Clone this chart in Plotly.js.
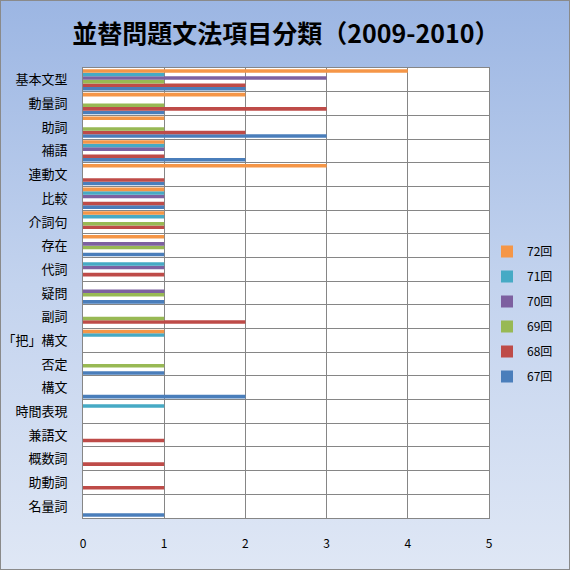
<!DOCTYPE html>
<html>
<head>
<meta charset="utf-8">
<script src="https://cdn.plot.ly/plotly-3.0.1.min.js"></script>
<style>
  html, body { margin: 0; padding: 0; }
  #chart {
    width: 570px; height: 570px; box-sizing: border-box;
    border: 1px solid #8a8a8a;
    background: linear-gradient(to bottom, #9cb6e3 0%, #c3d3ee 50%, #dfe7f5 100%);
  }
</style>
</head>
<body>
<div id="chart"></div>
<script>
const categories = ['基本文型','動量詞','助詞','補語','連動文','比較','介詞句','存在','代詞','疑問','副詞','「把」構文','否定','構文','時間表現','兼語文','概数詞','助動詞','名量詞'];
const seriesNames = ['67回','68回','69回','70回','71回','72回'];
const s67 = [2,1,3,2,1,1,0,1,0,1,0,0,1,2,0,0,0,0,1];
const s68 = [2,3,2,1,1,1,1,0,1,0,2,0,0,0,0,1,1,1,0];
const s69 = [1,1,1,0,0,0,1,1,0,1,1,0,1,0,0,0,0,0,0];
const s70 = [3,0,0,1,0,1,0,1,1,1,0,0,0,0,0,0,0,0,0];
const s71 = [1,0,0,1,0,1,1,0,1,0,0,1,0,0,1,0,0,0,0];
const s72 = [4,2,1,1,3,1,1,1,0,0,0,1,0,0,0,0,0,0,0];
const xTicks = [0,1,2,3,4,5];

const seriesValues = [s67, s68, s69, s70, s71, s72];
const colors = ['#4a7ebb','#be4b48','#98b954','#7d60a0','#46aac5','#f59647'];

const traces = seriesValues.map((vals, i) => ({
  type: 'bar',
  orientation: 'h',
  name: seriesNames[i],
  x: vals,
  y: categories,
  marker: {color: colors[i]},
  legendgroup: 'g' + i,
  legendrank: seriesValues.length - i,
  hoverinfo: 'x+y+name'
}));

const layout = {
  width: 570, height: 570,
  paper_bgcolor: 'rgba(0,0,0,0)',
  plot_bgcolor: '#ffffff',
  margin: {l: 82, r: 82, t: 67, b: 53, autoexpand: false},
  barmode: 'group',
  bargap: 0.1,
  bargroupgap: 0,
  font: {family: '"Noto Sans CJK JP", "Noto Sans", sans-serif', size: 12, color: '#000'},
  title: {
    text: '<b>並替問題文法項目分類（2009-2010）</b>',
    font: {family: '"Noto Sans CJK JP", sans-serif', size: 25, color: '#000'},
    x: 0.5, xanchor: 'center',
    y: 1 - 33/570, yanchor: 'middle'
  },
  xaxis: {
    range: [0, 5],
    tickvals: xTicks,
    ticktext: xTicks.map(String),
    showgrid: true, gridcolor: '#868686', gridwidth: 1,
    zeroline: false,
    showline: true, linecolor: '#868686', linewidth: 1, mirror: true,
    ticks: '', ticklabelstandoff: 15,
    tickfont: {size: 12, color: '#000'},
    automargin: false,
    fixedrange: true
  },
  yaxis: {
    type: 'category',
    categoryorder: 'array',
    categoryarray: categories.slice().reverse(),
    tickson: 'boundaries',
    showgrid: true, gridcolor: '#868686', gridwidth: 1,
    showline: true, linecolor: '#868686', linewidth: 1, mirror: true,
    ticks: '', ticklabelstandoff: 12,
    tickfont: {size: 13, color: '#000'},
    automargin: false,
    fixedrange: true
  },
  showlegend: true,
  legend: {
    traceorder: 'grouped',
    xref: 'container', yref: 'container',
    x: 486/570, xanchor: 'left',
    y: 1 - 236/570, yanchor: 'top',
    bgcolor: 'rgba(0,0,0,0)',
    font: {size: 12, color: '#000'},
    tracegroupgap: 6,
    itemwidth: 30
  }
};

Plotly.newPlot('chart', traces, layout, {displayModeBar: false, staticPlot: true});
</script>
</body>
</html>
